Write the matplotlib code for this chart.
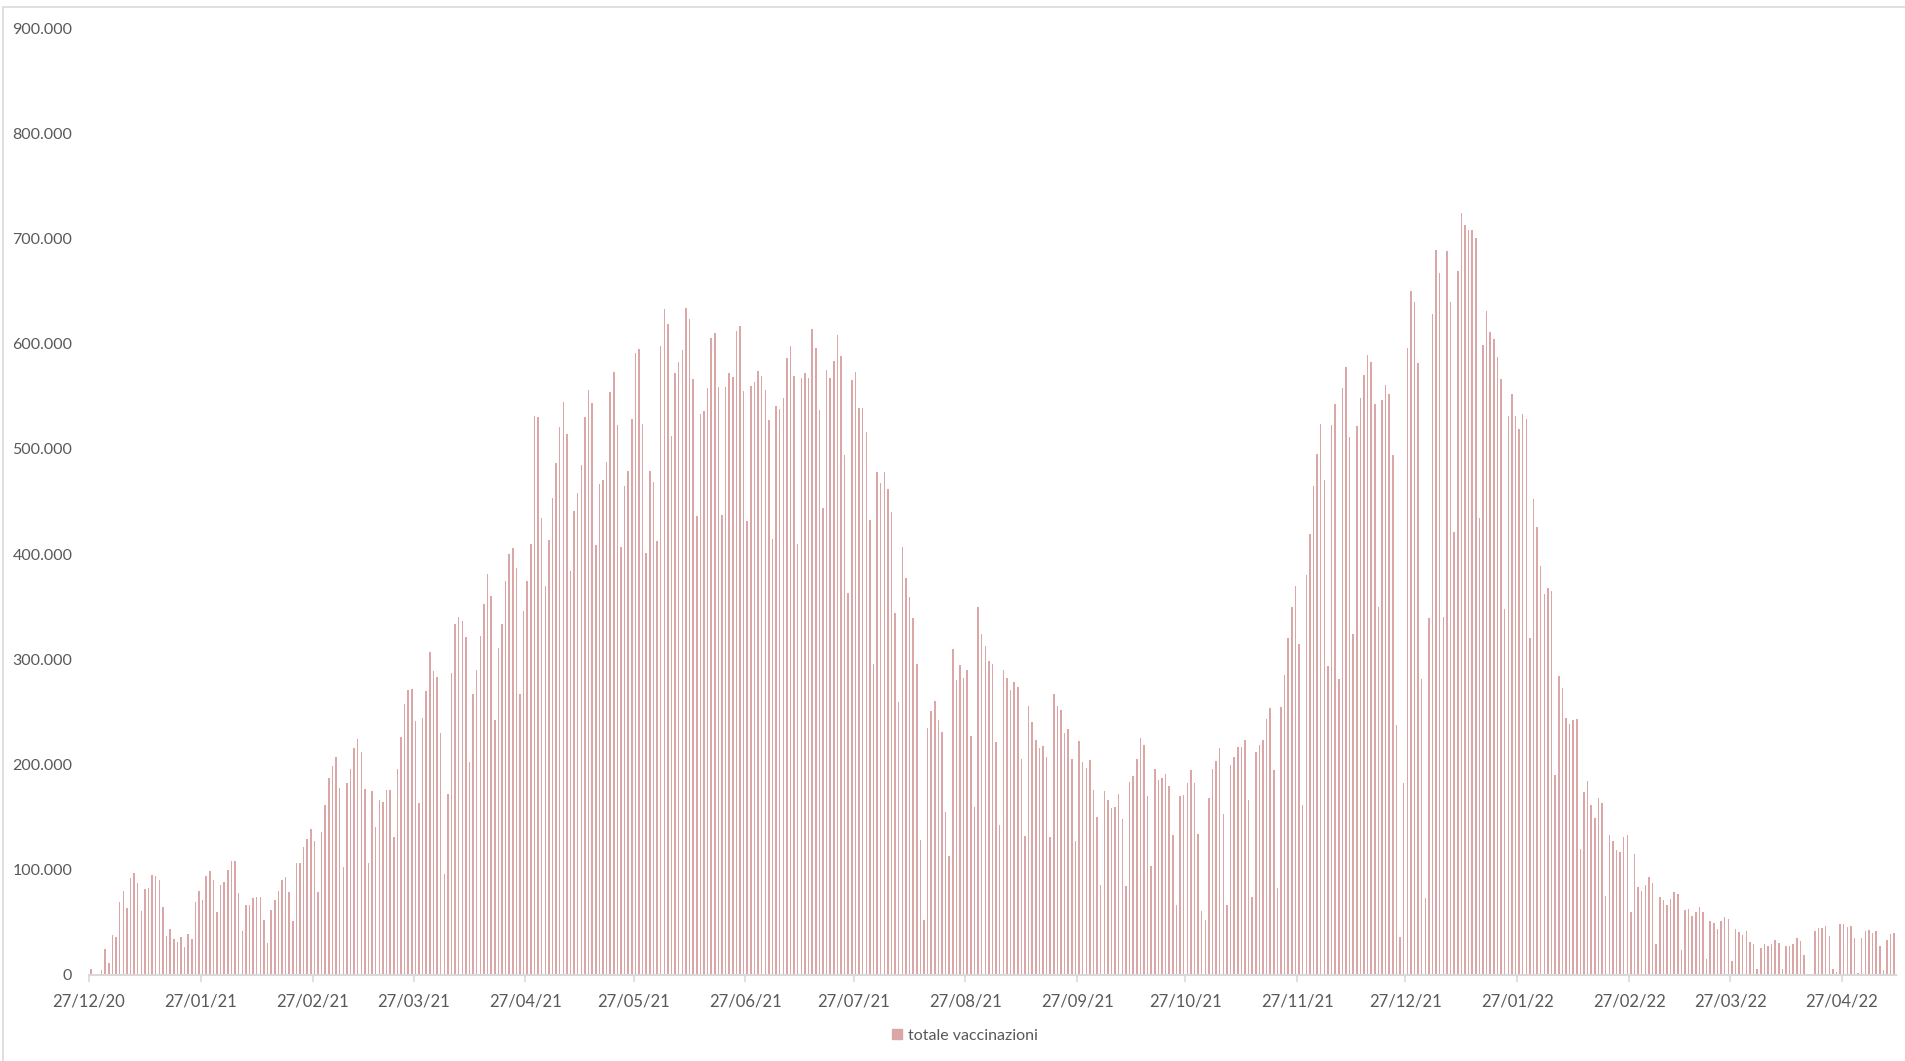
import numpy as np
import pandas as pd
import matplotlib
matplotlib.use('Agg')
import matplotlib.pyplot as plt
from matplotlib.patches import Patch, Rectangle
from matplotlib.ticker import FuncFormatter

plt.rcParams['font.family'] = ['Lato', 'DejaVu Sans']

# somministrazioni giornaliere (migliaia), dal 27/12/20, una riga = una settimana (dom..sab)
vals_a = [6, 1, 1, 5, 25, 11, 38,
          36, 69, 80, 64, 92, 97, 87,
          61, 82, 83, 95, 94, 90, 65,
          37, 44, 34, 31, 36, 27, 39,
          34, 69, 80, 71, 94, 99, 90,
          60, 86, 88, 100, 108, 108, 78,
          42, 67, 67, 73, 74, 74, 52,
          30, 62, 71, 80, 90, 93, 79,
          51, 106, 106, 122, 129, 139, 127,
          79, 136, 162, 187, 199, 207, 178,
          103, 182, 196, 216, 224, 212, 177,
          106, 175, 141, 166, 164, 176, 176,
          131, 196, 226, 258, 271, 272, 241,
          163, 244, 270, 307, 289, 283, 230,
          96, 172, 287, 334, 340, 336, 321,
          202, 267, 290, 322, 353, 381, 360,
          242, 311, 334, 374, 400, 406, 387,
          267, 346, 374, 410, 531, 530, 434]
vals_b = [370, 413, 453, 487, 521, 545, 514,
          384, 441, 458, 485, 530, 556, 544,
          409, 467, 470, 488, 554, 573, 523,
          407, 465, 479, 528, 591, 595, 524,
          401, 479, 469, 412, 598, 633, 619,
          512, 572, 583, 594, 634, 623, 566,
          436, 533, 536, 558, 605, 610, 559,
          437, 559, 572, 568, 612, 617, 555,
          431, 560, 564, 574, 569, 556, 527,
          414, 541, 538, 548, 586, 598, 569,
          410, 567, 572, 567, 614, 596, 537,
          444, 575, 567, 584, 608, 588, 494,
          363, 565, 573, 539, 539, 516, 432,
          296, 478, 468, 478, 462, 440, 344,
          259, 407, 377, 359, 339, 296, 128,
          52, 235, 251, 260, 242, 231, 155,
          113, 310, 280, 295, 282, 290, 227,
          160, 350, 324, 313, 298, 296, 221]
vals_c = [143, 290, 282, 271, 278, 274, 205,
          132, 256, 240, 223, 216, 218, 207,
          131, 267, 256, 252, 230, 234, 205,
          127, 222, 202, 197, 204, 176, 150,
          86, 175, 166, 159, 160, 172, 148,
          85, 183, 189, 205, 225, 219, 170,
          104, 196, 185, 187, 191, 180, 133,
          67, 170, 171, 182, 195, 182, 134,
          61, 52, 168, 196, 203, 216, 153,
          67, 200, 207, 217, 217, 223, 166,
          74, 212, 219, 223, 243, 254, 195,
          83, 255, 285, 320, 350, 370, 315,
          162, 380, 419, 465, 495, 524, 470,
          294, 523, 543, 281, 558, 578, 511,
          324, 522, 548, 570, 589, 583, 543,
          350, 546, 561, 552, 494, 238, 36,
          182, 596, 650, 640, 582, 281, 73,
          339, 628, 689, 667, 340, 688, 640]
vals_d = [421, 669, 724, 713, 708, 708, 700,
          434, 599, 631, 611, 604, 587, 566,
          348, 531, 552, 531, 519, 533, 528,
          320, 452, 426, 389, 362, 368, 365,
          190, 284, 273, 244, 239, 242, 243,
          120, 174, 184, 162, 149, 168, 163,
          75, 133, 127, 119, 117, 131, 133,
          60, 115, 84, 80, 86, 93, 87,
          29, 74, 71, 67, 72, 79, 77,
          24, 62, 63, 56, 60, 65, 60,
          15, 51, 49, 44, 51, 55, 53,
          13, 44, 41, 38, 42, 31, 29,
          6, 26, 29, 28, 29, 33, 30,
          6, 28, 28, 29, 35, 32, 19,
          1, 1, 42, 45, 45, 47, 37,
          6, 3, 48, 48, 46, 47, 35,
          2, 35, 42, 43, 40, 42, 28,
          5, 33, 39, 40]

start = pd.Timestamp('2020-12-27')
tick_dates = pd.date_range('2020-12-27', '2022-04-27', freq=pd.DateOffset(months=1))

vacc = np.array(vals_a + vals_b + vals_c + vals_d) * 1000
days = np.arange(len(vacc))
tick_pos = np.array([(d - start).days for d in tick_dates]) - 0.5
tick_lab = [d.strftime('%d/%m/%y') for d in tick_dates]

fig = plt.figure(figsize=(19.05, 10.61), dpi=100)
ax = fig.add_axes([89 / 1905, 86 / 1061, (1896 - 89) / 1905, (975 - 28) / 1061])

ax.bar(days, vacc, width=0.42, color='#dba6a6', linewidth=0)

ax.set_xlim(-0.5, len(vacc) - 0.5)
ax.set_ylim(0, 900000)
ax.set_yticks(np.arange(0, 900001, 100000))
ax.yaxis.set_major_formatter(FuncFormatter(lambda v, p: f'{int(v):,}'.replace(',', '.')))
ax.set_xticks(tick_pos)
ax.set_xticklabels(tick_lab)

for s in ['top', 'right', 'left']:
    ax.spines[s].set_visible(False)
ax.spines['bottom'].set_color('#d9d9d9')
ax.spines['bottom'].set_linewidth(1.5)
ax.tick_params(axis='y', length=0, pad=12, labelsize=11.5, labelcolor='#595959')
ax.tick_params(axis='x', length=5, width=1.2, color='#d9d9d9', pad=8,
               labelsize=12, labelcolor='#595959')

fig.legend(handles=[Patch(color='#dba6a6', label='totale vaccinazioni')],
           loc='center', bbox_to_anchor=(965 / 1905, 1 - 1036 / 1061), frameon=False,
           handlelength=0.6, handleheight=0.6, handletextpad=0.4,
           prop={'size': 11.5}, labelcolor='#595959')

fig.patches.append(Rectangle((2.5 / 1905, -0.01), 1.1, 1 - 7 / 1061 + 0.01,
                             transform=fig.transFigure, fill=False,
                             edgecolor='#d9d9d9', linewidth=1.2))

fig.savefig('out.png', dpi=100)
